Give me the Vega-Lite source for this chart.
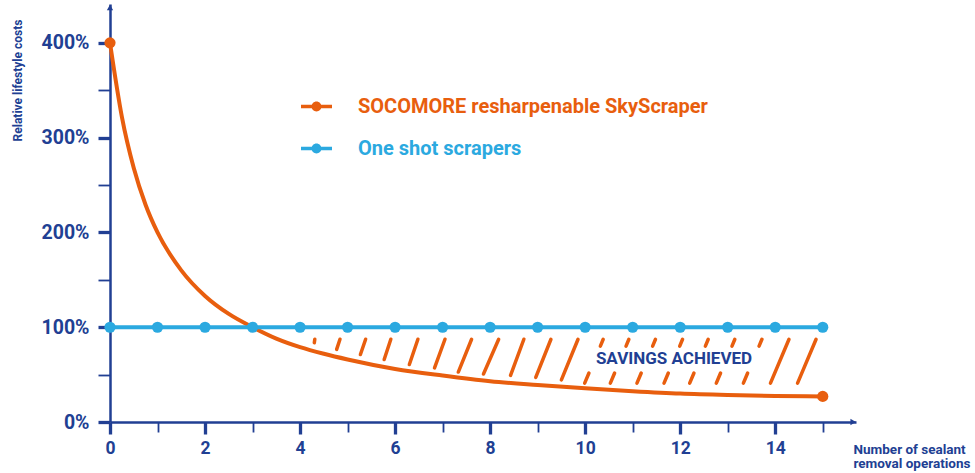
{
  "$schema": "https://vega.github.io/schema/vega-lite/v6.json",
  "width": 746,
  "height": 418,
  "autosize": {"type": "none"},
  "padding": {"left": 110, "top": 4, "right": 119, "bottom": 51},
  "background": "white",
  "config": {"view": {"stroke": null}, "font": "Roboto"},
  "datasets": {
    "curves": [
      {"series": "SOCOMORE resharpenable SkyScraper", "ops": 0, "cost": 400},
      {"series": "SOCOMORE resharpenable SkyScraper", "ops": 0.25, "cost": 322},
      {"series": "SOCOMORE resharpenable SkyScraper", "ops": 0.5, "cost": 268},
      {"series": "SOCOMORE resharpenable SkyScraper", "ops": 0.75, "cost": 229},
      {"series": "SOCOMORE resharpenable SkyScraper", "ops": 1, "cost": 200},
      {"series": "SOCOMORE resharpenable SkyScraper", "ops": 1.5, "cost": 160},
      {"series": "SOCOMORE resharpenable SkyScraper", "ops": 2, "cost": 133},
      {"series": "SOCOMORE resharpenable SkyScraper", "ops": 2.5, "cost": 114},
      {"series": "SOCOMORE resharpenable SkyScraper", "ops": 3, "cost": 100},
      {"series": "SOCOMORE resharpenable SkyScraper", "ops": 3.5, "cost": 88},
      {"series": "SOCOMORE resharpenable SkyScraper", "ops": 4, "cost": 79},
      {"series": "SOCOMORE resharpenable SkyScraper", "ops": 4.5, "cost": 72},
      {"series": "SOCOMORE resharpenable SkyScraper", "ops": 5, "cost": 66},
      {"series": "SOCOMORE resharpenable SkyScraper", "ops": 6, "cost": 56},
      {"series": "SOCOMORE resharpenable SkyScraper", "ops": 7, "cost": 49},
      {"series": "SOCOMORE resharpenable SkyScraper", "ops": 8, "cost": 43},
      {"series": "SOCOMORE resharpenable SkyScraper", "ops": 9, "cost": 39},
      {"series": "SOCOMORE resharpenable SkyScraper", "ops": 10, "cost": 35.5},
      {"series": "SOCOMORE resharpenable SkyScraper", "ops": 11, "cost": 32.5},
      {"series": "SOCOMORE resharpenable SkyScraper", "ops": 12, "cost": 30},
      {"series": "SOCOMORE resharpenable SkyScraper", "ops": 13, "cost": 28.5},
      {"series": "SOCOMORE resharpenable SkyScraper", "ops": 14, "cost": 27.5},
      {"series": "SOCOMORE resharpenable SkyScraper", "ops": 15, "cost": 27},
      {"series": "One shot scrapers", "ops": 0, "cost": 100},
      {"series": "One shot scrapers", "ops": 1, "cost": 100},
      {"series": "One shot scrapers", "ops": 2, "cost": 100},
      {"series": "One shot scrapers", "ops": 3, "cost": 100},
      {"series": "One shot scrapers", "ops": 4, "cost": 100},
      {"series": "One shot scrapers", "ops": 5, "cost": 100},
      {"series": "One shot scrapers", "ops": 6, "cost": 100},
      {"series": "One shot scrapers", "ops": 7, "cost": 100},
      {"series": "One shot scrapers", "ops": 8, "cost": 100},
      {"series": "One shot scrapers", "ops": 9, "cost": 100},
      {"series": "One shot scrapers", "ops": 10, "cost": 100},
      {"series": "One shot scrapers", "ops": 11, "cost": 100},
      {"series": "One shot scrapers", "ops": 12, "cost": 100},
      {"series": "One shot scrapers", "ops": 13, "cost": 100},
      {"series": "One shot scrapers", "ops": 14, "cost": 100},
      {"series": "One shot scrapers", "ops": 15, "cost": 100}
    ],
    "hatch": [
      {"x1": 4.31, "y1": 87.3, "x2": 4.30, "y2": 83.7},
      {"x1": 4.84, "y1": 87.3, "x2": 4.77, "y2": 76.6},
      {"x1": 5.38, "y1": 87.3, "x2": 5.27, "y2": 71.2},
      {"x1": 5.91, "y1": 87.3, "x2": 5.77, "y2": 65.9},
      {"x1": 6.48, "y1": 87.3, "x2": 6.30, "y2": 60.6},
      {"x1": 7.05, "y1": 87.3, "x2": 6.83, "y2": 57.0},
      {"x1": 7.61, "y1": 87.3, "x2": 7.33, "y2": 52.7},
      {"x1": 8.18, "y1": 87.3, "x2": 7.86, "y2": 50.6},
      {"x1": 8.71, "y1": 87.3, "x2": 8.43, "y2": 49.2},
      {"x1": 9.28, "y1": 87.3, "x2": 8.96, "y2": 47.0},
      {"x1": 9.85, "y1": 87.3, "x2": 9.50, "y2": 44.5},
      {"x1": 10.38, "y1": 87.3, "x2": 10.32, "y2": 80.1},
      {"x1": 10.08, "y1": 51.7, "x2": 9.99, "y2": 41.0},
      {"x1": 10.92, "y1": 87.3, "x2": 10.86, "y2": 80.1},
      {"x1": 10.62, "y1": 51.7, "x2": 10.53, "y2": 41.0},
      {"x1": 11.48, "y1": 87.3, "x2": 11.42, "y2": 80.1},
      {"x1": 11.18, "y1": 51.7, "x2": 11.09, "y2": 41.0},
      {"x1": 12.05, "y1": 87.3, "x2": 11.99, "y2": 80.1},
      {"x1": 11.75, "y1": 51.7, "x2": 11.66, "y2": 41.0},
      {"x1": 12.59, "y1": 87.3, "x2": 12.53, "y2": 80.1},
      {"x1": 12.29, "y1": 51.7, "x2": 12.20, "y2": 41.0},
      {"x1": 13.15, "y1": 87.3, "x2": 13.09, "y2": 80.1},
      {"x1": 12.85, "y1": 51.7, "x2": 12.76, "y2": 41.0},
      {"x1": 13.72, "y1": 87.3, "x2": 13.66, "y2": 80.1},
      {"x1": 13.42, "y1": 51.7, "x2": 13.33, "y2": 41.0},
      {"x1": 14.29, "y1": 87.3, "x2": 13.90, "y2": 41.0},
      {"x1": 14.86, "y1": 87.3, "x2": 14.47, "y2": 41.0}
    ],
    "note": [{"ops": 11.87, "cost": 66.5, "text": "SAVINGS ACHIEVED"}],
    "arrows": [{"axis": "x", "ops": 15.64, "cost": 0}, {"axis": "y", "ops": 0, "cost": 437.3}]
  },
  "layer": [
    {
      "data": {"name": "hatch"},
      "mark": {"type": "rule", "color": "#e85e0e", "strokeWidth": 3.5, "strokeCap": "round"},
      "encoding": {
        "x": {"field": "x1", "type": "quantitative", "scale": {"domain": [0, 15.7], "nice": false, "zero": false}},
        "y": {"field": "y1", "type": "quantitative", "scale": {"domain": [0, 441], "nice": false}},
        "x2": {"field": "x2"},
        "y2": {"field": "y2"}
      }
    },
    {
      "data": {"name": "curves"},
      "mark": {"type": "line", "strokeWidth": 4, "interpolate": "monotone", "strokeCap": "round"},
      "encoding": {
        "x": {
          "field": "ops", "type": "quantitative",
          "axis": {
            "values": [0, 1, 2, 3, 4, 5, 6, 7, 8, 9, 10, 11, 12, 13, 14, 15],
            "labelExpr": "datum.value % 2 === 0 ? datum.label : ''",
            "grid": false,
            "domainColor": "#213f93", "domainWidth": 2.5,
            "tickColor": "#213f93",
            "tickWidth": {"condition": {"test": "datum.value % 2 === 0", "value": 3.3}, "value": 1.8},
            "tickSize": {"condition": {"test": "datum.value % 2 === 0", "value": 12}, "value": 10},
            "labelFont": "Roboto", "labelFontWeight": "bold", "labelFontSize": 17.5, "labelColor": "#213f93",
            "labelPadding": 5, "labelFlush": false, "labelOverlap": false,
            "title": ["Number of sealant", "removal operations"],
            "titleFont": "Roboto", "titleFontWeight": "bold", "titleFontSize": 13.5, "titleColor": "#213f93",
            "titleLineHeight": 14.5,
            "titleAnchor": null, "titleAlign": "left", "titleBaseline": "top",
            "titleX": 743, "titleY": 20
          }
        },
        "y": {
          "field": "cost", "type": "quantitative",
          "axis": {
            "values": [0, 50, 100, 150, 200, 250, 300, 350, 400],
            "labelExpr": "datum.value % 100 === 0 ? datum.value + '%' : ''",
            "grid": false,
            "domainColor": "#213f93", "domainWidth": 2.5,
            "tickColor": "#213f93",
            "tickWidth": {"condition": {"test": "datum.value % 100 === 0", "value": 3.3}, "value": 1.8},
            "tickSize": 12,
            "labelFont": "Roboto", "labelFontWeight": "bold", "labelFontSize": 19.5, "labelColor": "#213f93",
            "labelPadding": 9, "labelFlush": false, "labelOverlap": false,
            "title": "Relative lifestyle costs",
            "titleFont": "Roboto", "titleFontWeight": "bold", "titleFontSize": 12, "titleColor": "#213f93",
            "titleAnchor": null, "titleAngle": -90, "titleAlign": "center", "titleBaseline": "middle",
            "titleX": -93, "titleY": 76
          }
        },
        "color": {
          "field": "series", "type": "nominal",
          "scale": {"domain": ["SOCOMORE resharpenable SkyScraper", "One shot scrapers"], "range": ["#e85e0e", "#2ba9e0"]},
          "legend": {
            "orient": "none", "legendX": 191, "legendY": 87,
            "title": null, "padding": 0,
            "symbolType": "M-1,-0.11H1V0.11H-1Z M0.32,0A0.32,0.32 0 1,1 -0.32,0A0.32,0.32 0 1,1 0.32,0Z",
            "symbolSize": 961, "symbolStrokeWidth": 0, "symbolOpacity": 1,
            "labelFont": "Roboto", "labelFontWeight": "bold", "labelFontSize": 20,
            "labelOffset": 26, "rowPadding": 16, "labelLimit": 500,
            "encode": {
              "labels": {"update": {"fill": {"scale": "color", "field": "value"}}},
              "symbols": {"update": {"fill": {"scale": "color", "field": "value"}, "stroke": {"value": "transparent"}, "strokeWidth": {"value": 0}, "opacity": {"value": 1}}}
            }
          }
        },
        "detail": {"field": "series"}
      }
    },
    {
      "data": {"name": "curves"},
      "transform": [{"filter": "datum.series === 'One shot scrapers' || datum.ops === 0 || datum.ops === 15"}],
      "mark": {"type": "point", "filled": true, "size": 125, "opacity": 1},
      "encoding": {
        "x": {"field": "ops", "type": "quantitative"},
        "y": {"field": "cost", "type": "quantitative"},
        "color": {
          "field": "series", "type": "nominal",
          "legend": {
            "orient": "none", "legendX": 191, "legendY": 87,
            "title": null, "padding": 0,
            "symbolType": "M-1,-0.11H1V0.11H-1Z M0.32,0A0.32,0.32 0 1,1 -0.32,0A0.32,0.32 0 1,1 0.32,0Z",
            "symbolSize": 961, "symbolStrokeWidth": 0, "symbolOpacity": 1,
            "labelFont": "Roboto", "labelFontWeight": "bold", "labelFontSize": 20,
            "labelOffset": 26, "rowPadding": 16, "labelLimit": 500,
            "encode": {
              "labels": {"update": {"fill": {"scale": "color", "field": "value"}}},
              "symbols": {"update": {"fill": {"scale": "color", "field": "value"}, "stroke": {"value": "transparent"}, "strokeWidth": {"value": 0}, "opacity": {"value": 1}}}
            }
          }
        }
      }
    },
    {
      "data": {"name": "note"},
      "mark": {"type": "text", "font": "Roboto", "fontWeight": "bold", "fontSize": 17, "color": "#213f93", "align": "center", "baseline": "middle"},
      "encoding": {
        "x": {"field": "ops", "type": "quantitative"},
        "y": {"field": "cost", "type": "quantitative"},
        "text": {"field": "text"}
      }
    },
    {
      "data": {"name": "arrows"},
      "transform": [{"filter": "datum.axis === 'x'"}],
      "mark": {"type": "point", "shape": "triangle-right", "filled": true, "size": 40, "opacity": 1, "color": "#213f93"},
      "encoding": {
        "x": {"field": "ops", "type": "quantitative"},
        "y": {"field": "cost", "type": "quantitative"}
      }
    },
    {
      "data": {"name": "arrows"},
      "transform": [{"filter": "datum.axis === 'y'"}],
      "mark": {"type": "point", "shape": "triangle-up", "filled": true, "size": 40, "opacity": 1, "color": "#213f93"},
      "encoding": {
        "x": {"field": "ops", "type": "quantitative"},
        "y": {"field": "cost", "type": "quantitative"}
      }
    }
  ]
}
